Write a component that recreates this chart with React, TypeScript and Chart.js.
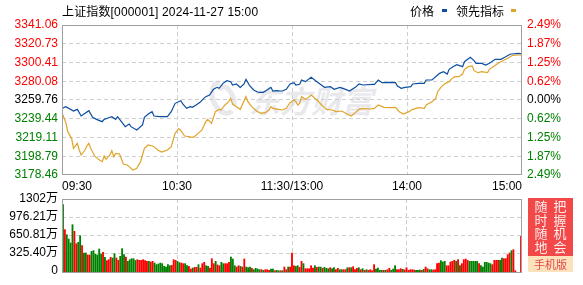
import React, { useEffect, useRef } from 'react';
import { Chart, registerables } from 'chart.js';

Chart.register(...registerables);

document.body.style.margin = '0';

// ---------- data ----------
const TITLE = '上证指数[000001] 2024-11-27 15:00';
const PREV_CLOSE = 3259.76;

const priceTicks = [3341.06, 3320.73, 3300.41, 3280.08, 3259.76, 3239.44, 3219.11, 3198.79, 3178.46];
const pctLabels = ['2.49%', '1.87%', '1.25%', '0.62%', '0.00%', '0.62%', '1.25%', '1.87%', '2.49%'];
const timeTicks = [0, 60, 120, 180, 240];
const timeLabels = ['09:30', '10:30', '11:30/13:00', '14:00', '15:00'];
const volTicks = [0, 325.4, 650.81, 976.21, 1302];
const volLabels = ['0', '325.40万', '650.81万', '976.21万', '1302万'];

// 价格 (minute index from 09:30, value)
const priceMinutes = [0, 2, 6, 8, 10, 14, 16, 18, 21, 22, 24, 26, 28, 29, 31, 33, 35, 36, 39, 42, 43, 45, 47, 48, 51, 55, 57, 59, 62, 63, 65, 67, 68, 70, 72, 74, 75, 77, 79, 81, 82, 84, 86, 88, 89, 91, 93, 95, 96, 98, 100, 102, 103, 105, 107, 109, 110, 112, 114, 115, 117, 119, 121, 122, 124, 125, 127, 130, 133, 136, 137, 140, 142, 145, 148, 150, 153, 155, 157, 162, 163, 165, 167, 169, 171, 174, 175, 177, 179, 182, 183, 186, 189, 190, 193, 196, 197, 199, 201, 202, 204, 206, 209, 210, 213, 215, 216, 219, 221, 223, 226, 229, 231, 234, 235, 238, 240];
const priceValues = [3250.73, 3252.53, 3247.84, 3249.64, 3242.42, 3248.2, 3240.97, 3238.8, 3236.27, 3238.8, 3240.25, 3241.69, 3238.8, 3241.69, 3236.27, 3230.85, 3233.74, 3230.85, 3227.24, 3232.66, 3240.97, 3244.58, 3247.11, 3242.42, 3241.69, 3241.69, 3247.11, 3256.15, 3259.04, 3255.42, 3250.73, 3252.53, 3251.81, 3254.34, 3257.23, 3261.57, 3263.37, 3265.18, 3271.32, 3273.49, 3272.41, 3277.83, 3280.72, 3279.63, 3276.02, 3277.1, 3273.49, 3277.1, 3282.16, 3274.94, 3270.6, 3268.43, 3268.07, 3268.07, 3270.6, 3273.49, 3269.52, 3269.88, 3269.52, 3269.52, 3271.32, 3277.1, 3278.55, 3276.02, 3276.74, 3281.44, 3279.63, 3284.33, 3279.63, 3274.94, 3273.49, 3274.21, 3271.32, 3273.49, 3271.32, 3269.52, 3273.49, 3277.1, 3276.02, 3276.74, 3276.74, 3281.44, 3278.55, 3278.55, 3278.91, 3278.55, 3274.94, 3272.41, 3273.49, 3274.21, 3277.1, 3277.83, 3277.83, 3281.44, 3281.44, 3286.86, 3288.67, 3290.47, 3287.94, 3293.0, 3295.89, 3298.06, 3295.89, 3301.31, 3306.01, 3302.4, 3299.51, 3299.51, 3297.7, 3299.51, 3303.84, 3303.84, 3306.01, 3309.62, 3309.62, 3310.35, 3309.78];

// 领先指标
const leadMinutes = [0, 2, 3, 5, 6, 8, 9, 10, 12, 13, 14, 15, 17, 19, 21, 22, 23, 25, 26, 27, 28, 30, 32, 34, 35, 37, 39, 41, 42, 43, 45, 47, 48, 50, 52, 54, 55, 57, 59, 61, 62, 64, 66, 68, 69, 71, 73, 75, 76, 78, 80, 82, 83, 85, 87, 88, 89, 91, 93, 94, 96, 97, 99, 101, 102, 104, 106, 108, 109, 110, 113, 115, 117, 119, 121, 122, 123, 124, 125, 127, 128, 130, 133, 136, 138, 141, 143, 146, 148, 151, 153, 155, 157, 161, 163, 165, 168, 171, 174, 176, 178, 181, 183, 186, 189, 190, 193, 195, 196, 198, 200, 202, 203, 205, 207, 209, 210, 212, 214, 215, 217, 219, 222, 223, 225, 228, 230, 233, 235, 238, 240];
const leadValues = [3246.03, 3235.19, 3225.43, 3218.21, 3207.37, 3212.79, 3205.56, 3200.14, 3205.56, 3209.9, 3212.79, 3207.37, 3199.06, 3195.44, 3192.92, 3199.06, 3195.44, 3200.14, 3204.84, 3198.33, 3201.95, 3201.23, 3190.39, 3189.3, 3187.49, 3183.88, 3185.69, 3192.92, 3200.14, 3207.37, 3210.98, 3209.9, 3209.17, 3205.56, 3203.39, 3204.84, 3205.56, 3209.17, 3223.63, 3228.69, 3226.52, 3220.74, 3220.01, 3219.29, 3220.01, 3223.63, 3227.24, 3236.27, 3238.8, 3234.47, 3247.11, 3249.64, 3248.92, 3254.34, 3257.95, 3261.57, 3255.42, 3252.53, 3249.64, 3254.34, 3263.37, 3257.95, 3252.53, 3248.92, 3247.11, 3245.31, 3246.03, 3248.92, 3252.53, 3250.73, 3249.64, 3248.92, 3250.73, 3256.87, 3259.76, 3257.95, 3254.34, 3256.15, 3263.37, 3260.48, 3261.57, 3265.18, 3259.76, 3253.26, 3249.64, 3248.92, 3247.11, 3247.84, 3245.31, 3242.42, 3246.03, 3249.64, 3250.73, 3250.0, 3250.73, 3254.34, 3251.81, 3251.45, 3251.81, 3247.11, 3244.58, 3247.11, 3249.64, 3251.45, 3250.73, 3254.34, 3257.95, 3261.57, 3268.79, 3274.21, 3277.83, 3279.63, 3282.16, 3285.05, 3285.05, 3287.94, 3293.0, 3295.89, 3296.62, 3291.56, 3289.39, 3290.47, 3289.39, 3293.0, 3295.89, 3300.23, 3302.4, 3305.65, 3308.18, 3308.54, 3308.54];

// 成交量 (万), one per minute 09:30..11:30 then 13:01..15:00
const volumeAM = [
  1200, 748, 657, 579, 507, 838, 718, 494, 519, 639,
  458, 325, 325, 290, 290, 356, 368, 307, 289, 398,
  307, 338, 247, 187, 205, 247, 235, 314, 235, 193,
  265, 404, 296, 253, 175, 205, 223, 223, 190, 205,
  193, 193, 205, 187, 175, 175, 163, 175, 145, 115,
  127, 145, 133, 84, 72, 115, 96, 102, 205, 193,
  175, 150, 145, 133, 133, 96, 84, 36, 54, 66,
  66, 115, 54, 133, 157, 96, 84, 54, 223, 133,
  175, 110, 96, 157, 133, 133, 133, 157, 253, 217,
  96, 72, 96, 84, 72, 217, 72, 60, 72, 48,
  24, 48, 36, 24, 24, 12, 24, 24, 12, 36,
  36, 5, 12, 5, 5, 6, 72, 24, 72, 72,
  326,
];
const volumePM = [
  96, 84, 96, 66, 175, 133, 42, 42, 42, 96,
  54, 96, 66, 72, 72, 48, 66, 48, 42, 60,
  42, 60, 24, 48, 24, 24, 24, 24, 60, 60,
  60, 78, 24, 48, 60, 24, 42, 12, 24, 12,
  24, 6, 115, 36, 54, 12, 12, 12, 12, 24,
  48, 12, 36, 96, 24, 24, 42, 30, 20, 60,
  12, 24, 24, 18, 12, 12, 18, 12, 30, 72,
  42, 24, 24, 18, 24, 133, 145, 187, 163, 175,
  96, 96, 163, 175, 193, 175, 205, 96, 133, 205,
  217, 193, 175, 175, 175, 175, 175, 133, 96, 72,
  157, 157, 145, 133, 115, 193, 193, 193, 193, 235,
  223, 223, 296, 326, 368, 386, 5, 0, 0, 627,
];
// R = up (red), G = down (green)
const directionAM =
  'GRGGGGRRGG' + 'RGGRRGGGGG' + 'GRGRRRGGRR' + 'GGGRGGGGGR' + 'RRRRRGRRGG' + 'GGGGGGGRRR' +
  'GGRRGGRRGR' + 'RGRRRGGRRR' + 'GRRGGRRRGG' + 'GRRGRRGGGR' + 'GGGGRGRRRG' + 'GRGGRGRRGR' + 'R';
const directionPM =
  'RGGRRGRRRR' + 'RGRGGRGGGR' + 'GGRRGGRRGR' + 'GRRRGRGRGR' + 'RRRGGGGRGR' + 'RGGGRRRGRR' +
  'RRRRGGGRGR' + 'RGGRRRRGGG' + 'RRRRRGRGRR' + 'RRGGGGGRGG' + 'GGGGRRRRGG' + 'RRRRGRRRRR';

// ---------- styles ----------
const FONT = "'Liberation Sans', Arial, 'Noto Sans CJK SC', sans-serif";
const BLUE = '#0b4ea2';
const ORANGE = '#e0a42a';
const UP = '#ff0000';
const DOWN = '#008000';
const GRID = '#cfcfcf';
const FRAME = '#a0a0a0';

Chart.defaults.font.family = FONT;
Chart.defaults.font.size = 12;

const levelColor = (v: number) =>
  Math.abs(v - PREV_CLOSE) < 0.005 ? '#000000' : v > PREV_CLOSE ? UP : DOWN;

const framePlugin = {
  id: 'frame',
  afterDraw(chart: any) {
    const { ctx, chartArea: a } = chart;
    ctx.save();
    ctx.strokeStyle = FRAME;
    ctx.lineWidth = 1;
    ctx.strokeRect(Math.round(a.left) + 0.5, Math.round(a.top) + 0.5, Math.round(a.right - a.left) - 1, Math.round(a.bottom - a.top) - 1);
    ctx.restore();
  },
};

const watermarkPlugin = {
  id: 'watermark',
  beforeDatasetsDraw(chart: any) {
    const { ctx, chartArea: a } = chart;
    const cx = (a.left + a.right) / 2;
    const cy = (a.top + a.bottom) / 2;
    ctx.save();
    ctx.fillStyle = 'rgba(200,200,212,0.42)';
    ctx.strokeStyle = 'rgba(200,200,212,0.42)';
    ctx.font = "italic bold 31px 'Noto Sans CJK SC'";
    ctx.textAlign = 'center';
    ctx.textBaseline = 'middle';
    ctx.fillText('东方财富', cx + 19, cy + 1);
    ctx.lineWidth = 5;
    ctx.beginPath();
    ctx.ellipse(cx - 69, cy - 2, 10, 16, -0.4, Math.PI * 0.4, Math.PI * 1.6);
    ctx.stroke();
    ctx.beginPath();
    ctx.ellipse(cx - 65, cy - 2, 6, 12, -0.4, Math.PI * 1.3, Math.PI * 2.3);
    ctx.stroke();
    ctx.restore();
  },
};

function PriceChart() {
  const ref = useRef<HTMLCanvasElement>(null);
  useEffect(() => {
    const chart = new Chart(ref.current as HTMLCanvasElement, {
      type: 'line',
      data: {
        datasets: [
          {
            label: '领先指标',
            data: leadMinutes.map((m, i) => ({ x: m, y: leadValues[i] })),
            borderColor: ORANGE,
            borderWidth: 1.2,
            pointRadius: 0,
            tension: 0,
          },
          {
            label: '价格',
            data: priceMinutes.map((m, i) => ({ x: m, y: priceValues[i] })),
            borderColor: BLUE,
            borderWidth: 1.2,
            pointRadius: 0,
            tension: 0,
          },
        ],
      },
      options: {
        animation: false,
        responsive: false,
        maintainAspectRatio: false,
        layout: { padding: { top: 25, left: 0, right: 0, bottom: 0 } },
        plugins: { legend: { display: false }, tooltip: { enabled: false } },
        scales: {
          x: {
            type: 'linear',
            min: 0,
            max: 240,
            afterBuildTicks: (s: any) => {
              s.ticks = timeTicks.map((v) => ({ value: v }));
            },
            afterFit: (s: any) => {
              s.height = 20;
            },
            ticks: {
              autoSkip: false,
              maxRotation: 0,
              align: 'inner',
              padding: 4,
              color: '#000',
              callback: (_v: any, i: number) => timeLabels[i],
            },
            grid: {
              color: (c: any) => (c.index === 0 || c.index === timeTicks.length - 1 ? 'rgba(0,0,0,0)' : GRID),
              drawTicks: false,
              lineWidth: 1,
            },
            border: { display: false, dash: [4, 3] },
          },
          y: {
            position: 'left',
            min: priceTicks[priceTicks.length - 1],
            max: priceTicks[0],
            afterBuildTicks: (s: any) => {
              s.ticks = priceTicks.map((v) => ({ value: v }));
            },
            afterFit: (s: any) => {
              s.width = 62;
            },
            ticks: {
              autoSkip: false,
              padding: 4,
              color: (c: any) => levelColor(c.tick.value),
              callback: (_v: any, i: number) => priceTicks[i].toFixed(2),
            },
            grid: {
              color: (c: any) => (c.index === 0 || c.index === priceTicks.length - 1 ? 'rgba(0,0,0,0)' : GRID),
              drawTicks: false,
              lineWidth: 1,
            },
            border: { display: false, dash: [4, 3] },
          },
          y1: {
            position: 'right',
            min: priceTicks[priceTicks.length - 1],
            max: priceTicks[0],
            afterBuildTicks: (s: any) => {
              s.ticks = priceTicks.map((v) => ({ value: v }));
            },
            afterFit: (s: any) => {
              s.width = 61;
            },
            ticks: {
              autoSkip: false,
              padding: 5,
              color: (c: any) => levelColor(c.tick.value),
              callback: (_v: any, i: number) => pctLabels[i],
            },
            grid: { drawOnChartArea: false, drawTicks: false },
            border: { display: false },
          },
        },
      },
      plugins: [watermarkPlugin, framePlugin],
    } as any);
    return () => chart.destroy();
  }, []);
  return <canvas ref={ref} width={583} height={195} style={{ position: 'absolute', left: 0, top: 0 }} />;
}

function VolumeChart() {
  const ref = useRef<HTMLCanvasElement>(null);
  useEffect(() => {
    const volumes = [...volumeAM, ...volumePM];
    const dirs = (directionAM + directionPM).split('');
    const chart = new Chart(ref.current as HTMLCanvasElement, {
      type: 'bar',
      data: {
        datasets: [
          {
            label: '成交量',
            data: volumes.map((v, i) => ({ x: i, y: v > 0 ? v : null })),
            backgroundColor: dirs.map((d) => (d === 'R' ? UP : DOWN)),
            barThickness: 1.2,
            base: -36,
          },
        ],
      },
      options: {
        animation: false,
        responsive: false,
        maintainAspectRatio: false,
        layout: { padding: { top: 14, left: 0, right: 61, bottom: 0 } },
        plugins: { legend: { display: false }, tooltip: { enabled: false } },
        scales: {
          x: {
            type: 'linear',
            min: -0.5,
            max: 240.5,
            offset: false,
            afterBuildTicks: (s: any) => {
              s.ticks = timeTicks.map((v) => ({ value: v }));
            },
            afterFit: (s: any) => {
              s.height = 12;
            },
            ticks: { display: false },
            grid: {
              offset: false,
              color: (c: any) => (c.index === 0 || c.index === timeTicks.length - 1 ? 'rgba(0,0,0,0)' : GRID),
              drawTicks: false,
              lineWidth: 1,
            },
            border: { display: false, dash: [4, 3] },
          },
          y: {
            position: 'left',
            min: -36,
            max: volTicks[volTicks.length - 1],
            afterBuildTicks: (s: any) => {
              s.ticks = volTicks.map((v) => ({ value: v }));
            },
            afterFit: (s: any) => {
              s.width = 62;
            },
            ticks: {
              autoSkip: false,
              padding: 4,
              color: '#000',
              callback: (_v: any, i: number) => volLabels[i],
            },
            grid: {
              color: (c: any) => (c.index === 0 || c.index === volTicks.length - 1 ? 'rgba(0,0,0,0)' : GRID),
              drawTicks: false,
              lineWidth: 1,
            },
            border: { display: false, dash: [4, 3] },
          },
        },
      },
      plugins: [framePlugin],
    } as any);
    return () => chart.destroy();
  }, []);
  return <canvas ref={ref} width={583} height={100} style={{ position: 'absolute', left: 0, top: 185 }} />;
}

export default function App() {
  const text: React.CSSProperties = {
    position: 'absolute',
    fontFamily: FONT,
    fontSize: 12,
    lineHeight: '14px',
    color: '#000',
    whiteSpace: 'nowrap',
  };
  const col: React.CSSProperties = {
    position: 'absolute',
    top: 199,
    width: 14,
    fontFamily: "'Noto Sans CJK SC', sans-serif",
    fontSize: 13,
    lineHeight: '13.6px',
    color: '#ffecec',
    textAlign: 'center',
  };
  return (
    <div style={{ position: 'relative', width: 583, height: 285, background: '#fff', overflow: 'hidden' }}>
      <PriceChart />
      <VolumeChart />
      <div style={{ ...text, left: 62, top: 5, letterSpacing: '0.15px' }}>{TITLE}</div>
      <div style={{ ...text, left: 410, top: 5 }}>价格</div>
      <div style={{ position: 'absolute', left: 442, top: 9, width: 5, height: 3, background: BLUE }} />
      <div style={{ ...text, left: 456, top: 5 }}>领先指标</div>
      <div style={{ position: 'absolute', left: 511, top: 9, width: 5, height: 3, background: ORANGE }} />
      <div style={{ position: 'absolute', left: 528, top: 198, width: 45, height: 58, background: '#f24848' }} />
      <div style={{ ...col, left: 534 }}>随<br />时<br />随<br />地</div>
      <div style={{ ...col, left: 553 }}>把<br />握<br />机<br />会</div>
      <div
        style={{
          position: 'absolute',
          left: 528,
          top: 256,
          width: 45,
          height: 16,
          background: '#fde2bd',
          color: '#e04848',
          fontFamily: "'Noto Sans CJK SC', sans-serif",
          fontSize: 11,
          lineHeight: '16px',
          textAlign: 'center',
        }}
      >
        手机版
      </div>
    </div>
  );
}
